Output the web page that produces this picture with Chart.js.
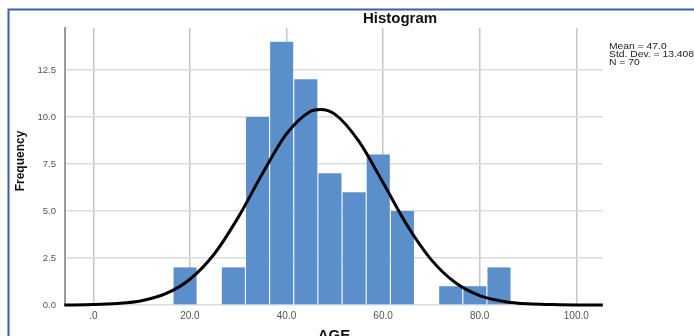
<!DOCTYPE html>
<html>
<head>
<meta charset="utf-8">
<script src="https://cdn.jsdelivr.net/npm/chart.js@4/dist/chart.umd.min.js"></script>
<style>
  body { margin: 0; background: #fff; }
  canvas { display: block; }
</style>
</head>
<body>
<canvas id="hist" width="694" height="336"></canvas>
<script>
// bins of AGE (5 years wide), centre of each bin
const binCenters = [19, 24, 29, 34, 39, 44, 49, 54, 59, 64, 69, 74, 79, 84];
const counts = [2, 0, 2, 10, 14, 12, 7, 6, 8, 5, 0, 1, 1, 2];

// normal curve
const curveX = [-6, 0, 5, 10, 15, 20, 25, 30, 35, 40, 45, 47, 50, 55, 60, 65, 70, 75, 80, 85, 90, 95, 100, 105.5];
const curveY = [0.0, 0.02, 0.08, 0.23, 0.6, 1.37, 2.7, 4.66, 6.98, 9.1, 10.3, 10.4, 10.15, 8.7, 6.5, 4.23, 2.4, 1.18, 0.5, 0.19, 0.06, 0.02, 0.0, 0.0];

const xTicks = [0, 20, 40, 60, 80, 100];
const yTicks = [0, 2.5, 5, 7.5, 10, 12.5];
const statLines = ['Mean = 47.0', 'Std. Dev. = 13.408', 'N = 70'];

const extras = {
  id: 'extras',
  beforeDraw(chart) {
    const c = chart.ctx;
    c.save();
    c.fillStyle = '#fff';
    c.fillRect(0, 0, chart.width, chart.height);
    c.restore();
  },
  afterDraw(chart) {
    const c = chart.ctx;
    c.save();
    // frame
    c.strokeStyle = '#3b5fb0';
    c.lineWidth = 2;
    c.beginPath();
    c.moveTo(8.5, 336);
    c.lineTo(8.5, 9.5);
    c.lineTo(694, 9.5);
    c.stroke();
    // title
    c.fillStyle = '#111';
    c.font = 'bold 15px "Liberation Sans", Arial, sans-serif';
    c.textAlign = 'center';
    c.textBaseline = 'alphabetic';
    c.fillText('Histogram', 400, 23);
    // axis titles
    c.fillText('AGE', 334, 340);
    c.save();
    c.translate(24, 161);
    c.rotate(-Math.PI / 2);
    c.font = 'bold 12px "Liberation Sans", Arial, sans-serif';
    c.fillText('Frequency', 0, 0);
    c.restore();
    // stats box (squeezed font like the original)
    c.font = '8.5px "Liberation Sans", Arial, sans-serif';
    c.textAlign = 'left';
    c.fillStyle = '#222';
    const sx = 85 / c.measureText(statLines[1]).width;
    c.translate(609, 0);
    c.scale(sx, 1);
    statLines.forEach((t, i) => c.fillText(t, 0, 49 + i * 8.2));
    c.restore();
  }
};

new Chart(document.getElementById('hist'), {
  type: 'bar',
  data: {
    datasets: [{
      type: 'line',
      data: curveX.map((x, i) => ({ x: x, y: curveY[i] })),
      borderColor: '#000',
      borderWidth: 3,
      pointRadius: 0,
      cubicInterpolationMode: 'monotone',
      clip: false,
      order: 0
    }, {
      type: 'bar',
      data: binCenters.map((x, i) => ({ x: x, y: counts[i] })),
      backgroundColor: '#5b8fcc',
      borderWidth: 0,
      barPercentage: 0.955,
      categoryPercentage: 1,
      order: 1
    }]
  },
  options: {
    responsive: false,
    animation: false,
    devicePixelRatio: 1,
    layout: { padding: { left: 0, right: 91, top: 28, bottom: 0 } },
    plugins: { legend: { display: false }, tooltip: { enabled: false } },
    scales: {
      x: {
        type: 'linear',
        offset: false,
        min: -5.86,
        max: 105.53,
        afterFit: s => { s.height = 31; },
        afterBuildTicks: s => { s.ticks = xTicks.map(v => ({ value: v })); },
        grid: { offset: false, color: '#c6c6c6', lineWidth: 1.5, drawTicks: false },
        border: { display: false },
        ticks: {
          padding: 5,
          maxRotation: 0,
          color: '#555',
          font: { family: '"Liberation Sans", Arial, sans-serif', size: 10 },
          callback: v => v === 0 ? '.0' : v.toFixed(1)
        }
      },
      y: {
        min: 0,
        max: 14.73,
        afterFit: s => { s.width = 65; },
        afterBuildTicks: s => { s.ticks = yTicks.map(v => ({ value: v })); },
        grid: { color: '#dcdcdc', lineWidth: 1.5, drawTicks: false },
        border: { display: true, color: '#9a9a9a', width: 2 },
        ticks: {
          padding: 9,
          color: '#555',
          font: { family: '"Liberation Sans", Arial, sans-serif', size: 9.5 },
          callback: v => v.toFixed(1)
        }
      }
    }
  },
  plugins: [extras]
});
</script>
</body>
</html>
